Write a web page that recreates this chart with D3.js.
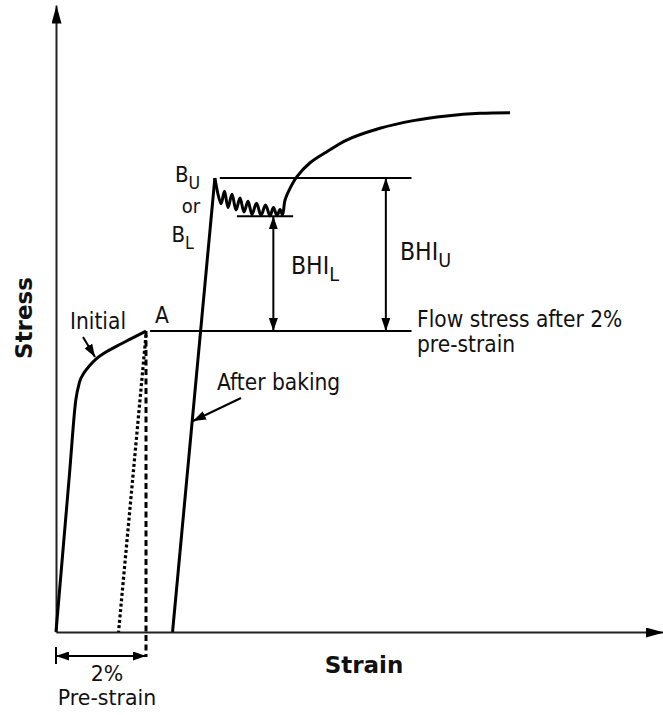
<!DOCTYPE html>
<html>
<head>
<meta charset="utf-8">
<script src="https://cdn.jsdelivr.net/npm/d3@7"></script>
<style>
  body { margin: 0; background: #fff; }
  svg { display: block; }
  text { font-family: "DejaVu Sans Condensed", "DejaVu Sans", sans-serif; fill: #111; }
  .wide { font-family: "DejaVu Sans", sans-serif; }
  .bold { font-family: "DejaVu Sans", sans-serif; font-weight: bold; }
</style>
</head>
<body>
<div id="chart"></div>
<script>
// schematic values: strain in %, stress in arbitrary units
const initialCurve = [[0,0],[0.30,126],[0.44,185],[0.52,199],[0.62,206.5],[0.75,212.5],[0.90,218],[1.10,223],[1.35,228],[1.65,233.5],[2.0,240]];
const unloadLine = [[2.0,237],[1.39,0]];
const preStrainLine = [[2.0,240],[2.0,-20]];
const bakedRise = [[2.59,0],[3.53,362]];
const serrations = [[3.53,362],[3.667,341.5],[3.744,351.5],[3.822,338.5],[3.911,349],[4.0,336.5],[4.089,346],[4.178,335],[4.267,343.5],[4.356,333],[4.456,342],[4.556,332.3],[4.656,340.5],[4.756,332],[4.833,338.5],[4.911,332],[4.978,337],[5.033,332.5]];
const hardening = [[5.09,344.5],[5.20,353.8],[5.35,363],[5.64,374],[6.02,383],[6.46,392.3],[7.2,401.7],[7.94,407.8],[8.68,411.5],[9.42,413.6],[10.09,414.1]];

const preStrain = 2.0;
const flowStress = 240;
const upperYield = 362;
const lowerYield = 331.5;
const flowSpan = [2.09, 7.9];
const upperSpan = [3.64, 7.9];
const lowerSpan = [4.02, 5.27];
const bhiArrows = [[4.83, flowStress, lowerYield], [7.33, flowStress, upperYield]];

const width = 663, height = 715;

const x = d3.scaleLinear().domain([0, 13.5]).range([56, 663.5]);
const y = d3.scaleLinear().domain([0, 500]).range([632, 5]);

const svg = d3.select("#chart").append("svg")
    .attr("width", width)
    .attr("height", height)
    .attr("viewBox", [0, 0, width, height]);

const defs = svg.append("defs");
// arrow heads
defs.append("marker")
    .attr("id", "head")
    .attr("markerUnits", "userSpaceOnUse")
    .attr("markerWidth", 13).attr("markerHeight", 9)
    .attr("viewBox", "0 0 13 9")
    .attr("refX", 13).attr("refY", 4.5)
    .attr("orient", "auto-start-reverse")
    .append("path").attr("d", "M0,0L13,4.5L0,9Z").attr("fill", "#000");
defs.append("marker")
    .attr("id", "axisHead")
    .attr("markerUnits", "userSpaceOnUse")
    .attr("markerWidth", 18).attr("markerHeight", 10)
    .attr("viewBox", "0 0 18 10")
    .attr("refX", 18).attr("refY", 5)
    .attr("orient", "auto")
    .append("path").attr("d", "M0,0L18,5L0,10Z").attr("fill", "#000");

// axes
svg.append("g")
    .attr("transform", `translate(0,${y(0)})`)
    .call(d3.axisBottom(x).tickValues([]).tickSizeOuter(0))
    .select(".domain").attr("stroke", "#222").attr("stroke-width", 2).attr("marker-end", "url(#axisHead)");
svg.append("g")
    .attr("transform", `translate(${x(0)},0)`)
    .call(d3.axisLeft(y).tickValues([]).tickSizeOuter(0))
    .select(".domain").attr("stroke", "#222").attr("stroke-width", 2).attr("marker-end", "url(#axisHead)");

const line = d3.line().x(d => x(d[0])).y(d => y(d[1]));

svg.append("path").datum(initialCurve)
    .attr("d", line.curve(d3.curveMonotoneX))
    .attr("fill", "none").attr("stroke", "#000").attr("stroke-width", 3);

line.curve(d3.curveLinear);
svg.append("path").datum(unloadLine)
    .attr("d", line)
    .attr("fill", "none").attr("stroke", "#000").attr("stroke-width", 3.2)
    .attr("stroke-dasharray", "3,2.4");
svg.append("path").datum(preStrainLine)
    .attr("d", line)
    .attr("fill", "none").attr("stroke", "#000").attr("stroke-width", 3)
    .attr("stroke-dasharray", "6,3.5");
svg.append("path").datum(bakedRise)
    .attr("d", line)
    .attr("fill", "none").attr("stroke", "#000").attr("stroke-width", 3)
    .attr("stroke-linejoin", "miter");

svg.append("path").datum(serrations.concat(hardening))
    .attr("d", d3.line().x(d => x(d[0])).y(d => y(d[1])).curve(d3.curveCatmullRom.alpha(0.5)))
    .attr("fill", "none").attr("stroke", "#000").attr("stroke-width", 3);

// reference lines
const refs = [[flowSpan, flowStress], [upperSpan, upperYield], [lowerSpan, lowerYield]];
svg.append("g").selectAll("line").data(refs).join("line")
    .attr("x1", d => x(d[0][0])).attr("x2", d => x(d[0][1]))
    .attr("y1", d => y(d[1])).attr("y2", d => y(d[1]))
    .attr("stroke", "#000").attr("stroke-width", 2);

// BHI arrows
svg.append("g").selectAll("line").data(bhiArrows).join("line")
    .attr("x1", d => x(d[0])).attr("x2", d => x(d[0]))
    .attr("y1", d => y(d[1])).attr("y2", d => y(d[2]))
    .attr("stroke", "#000").attr("stroke-width", 2)
    .attr("marker-start", "url(#head)").attr("marker-end", "url(#head)");

// 2% pre-strain dimension
svg.append("line")
    .attr("x1", x(0)).attr("x2", x(preStrain))
    .attr("y1", 656).attr("y2", 656)
    .attr("stroke", "#000").attr("stroke-width", 2)
    .attr("marker-start", "url(#head)").attr("marker-end", "url(#head)");
svg.append("line")
    .attr("x1", x(0)).attr("x2", x(0))
    .attr("y1", 647).attr("y2", 664)
    .attr("stroke", "#000").attr("stroke-width", 2);

// pointer arrows
svg.append("line")
    .attr("x1", 83).attr("y1", 337).attr("x2", 95).attr("y2", 357)
    .attr("stroke", "#000").attr("stroke-width", 2).attr("marker-end", "url(#head)");
svg.append("line")
    .attr("x1", 241).attr("y1", 398).attr("x2", 193).attr("y2", 421)
    .attr("stroke", "#000").attr("stroke-width", 2).attr("marker-end", "url(#head)");

// labels
const txt = (s, px, py, size, anchor) => svg.append("text")
    .attr("x", px).attr("y", py).attr("font-size", size)
    .attr("text-anchor", anchor || "start").text(s);

txt("Initial", 70, 329, 22.5);
txt("A", 162, 323, 22.5, "middle");
txt("After baking", 217, 390, 22.5);
txt("or", 191, 213, 20, "middle");
txt("Flow stress after 2%", 417, 327, 22.5);
txt("pre-strain", 417, 352, 22.5);
txt("2%", 107, 681, 20.5, "middle").attr("class", "wide");
txt("Pre-strain", 107, 705, 20.5, "middle").attr("class", "wide");

const sub = (main, s, px, py, size, ratio) => {
  const t = svg.append("text").attr("x", px).attr("y", py).attr("font-size", size);
  t.append("tspan").text(main);
  t.append("tspan").attr("dy", 7).attr("font-size", size * ratio).text(s);
};
sub("B", "U", 175, 182, 22, 0.8);
sub("B", "L", 171.5, 242, 22, 0.8);
sub("BHI", "L", 291, 274, 24.5, 0.8);
sub("BHI", "U", 400, 260, 24.5, 0.8);

svg.append("text").attr("class", "bold")
    .attr("x", 364).attr("y", 673).attr("font-size", 23)
    .attr("text-anchor", "middle").text("Strain");
svg.append("text").attr("class", "bold")
    .attr("transform", "translate(32,318) rotate(-90)")
    .attr("font-size", 23)
    .attr("text-anchor", "middle").text("Stress");
</script>
</body>
</html>
